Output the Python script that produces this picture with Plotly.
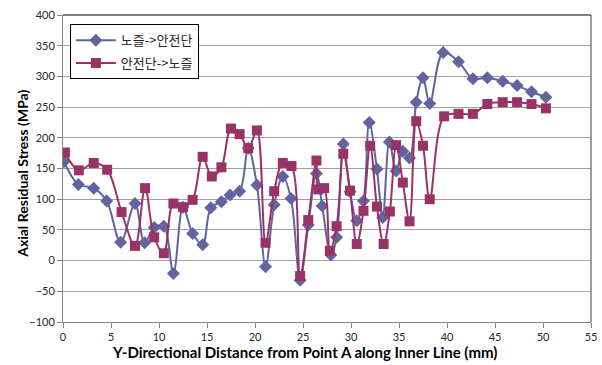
import plotly.graph_objects as go

# Nozzle -> safe end measurement path
x_nozzle = [0.1, 1.6, 3.2, 4.55, 6.0, 7.5, 8.5, 9.5, 10.5, 11.5, 12.5, 13.5,
            14.55, 15.4, 16.5, 17.4, 18.4, 19.3, 20.2, 21.1, 22.0, 22.9, 23.75,
            24.7, 25.55, 26.4, 27.0, 27.9, 28.5, 29.2, 29.9, 30.6, 31.3, 31.9,
            32.7, 33.3, 34.0, 34.7, 35.4, 36.1, 36.8, 37.5, 38.2, 39.6, 41.2,
            42.7, 44.2, 45.8, 47.3, 48.8, 50.3]
y_nozzle = [161, 124, 118, 97, 30, 93, 29, 54, 56, -21, 87, 44,
            26, 86, 96, 107, 113, 183, 123, -10, 91, 137, 101,
            -32, 58, 142, 89, 9, 38, 190, 112, 65, 97, 225,
            149, 70, 193, 146, 178, 167, 258, 298, 256, 339, 324,
            296, 298, 292, 285, 275, 266]

# Safe end -> nozzle measurement path
x_safe = [0.2, 1.65, 3.2, 4.6, 6.1, 7.5, 8.55, 9.5, 10.5, 11.5, 12.5, 13.5,
          14.55, 15.5, 16.5, 17.5, 18.4, 19.3, 20.2, 21.1, 22.0, 22.9, 23.8,
          24.7, 25.55, 26.4, 26.6, 27.2, 27.8, 28.5, 29.2, 29.9, 30.6, 31.3,
          32.0, 32.7, 33.4, 34.05, 34.7, 35.4, 36.1, 36.8, 37.5, 38.2, 39.7,
          41.2, 42.7, 44.2, 45.8, 47.3, 48.8, 50.3]
y_safe = [176, 147, 159, 148, 79, 24, 118, 38, 12, 93, 87, 99,
          169, 137, 152, 215, 206, 183, 212, 29, 113, 159, 154,
          -25, 66, 163, 116, 118, 16, 56, 174, 114, 27, 81,
          187, 88, 27, 80, 188, 127, 64, 227, 187, 100, 235,
          239, 239, 255, 258, 258, 255, 248]

x_ticks = list(range(0, 56, 5))
y_ticks = list(range(-100, 401, 50))

x_title = "Y-Directional Distance from Point A along Inner Line (mm)"
y_title = "Axial Residual Stress (MPa)"

BLUE = "#62639F"
PLUM = "#993366"
TEXT = "#262626"

fig = go.Figure()
fig.add_trace(go.Scatter(
    x=x_nozzle, y=y_nozzle, name="노즐->안전단", mode="lines+markers",
    legendgroup="a",
    line=dict(color=BLUE, width=2, shape="spline", smoothing=1.0),
    marker=dict(symbol="diamond", size=10, color=BLUE),
))
fig.add_trace(go.Scatter(
    x=x_safe, y=y_safe, name="안전단->노즐", mode="lines+markers",
    legendgroup="b",
    line=dict(color=PLUM, width=2, shape="spline", smoothing=1.0),
    marker=dict(symbol="square", size=10, color=PLUM),
))

fig.update_layout(
    width=602, height=365,
    margin=dict(l=63, r=11, t=15, b=43),
    paper_bgcolor="white", plot_bgcolor="white",
    font=dict(family="Lato, 'Liberation Sans', sans-serif", size=11, color=TEXT),
    showlegend=True,
    legend=dict(
        x=0.013, y=0.97, xanchor="left", yanchor="top",
        bgcolor="white", bordercolor="#000000", borderwidth=1,
        font=dict(family="'Noto Sans CJK KR', sans-serif", size=13, color=TEXT),
        tracegroupgap=3, itemwidth=40,
    ),
    xaxis=dict(
        range=[0, 55], tickvals=x_ticks, showgrid=False, zeroline=False,
        showline=True, linecolor="#868686", linewidth=1, automargin=False,
        ticks="outside", ticklen=5, tickcolor="#868686",
    ),
    yaxis=dict(
        range=[-100, 400], tickvals=y_ticks, showgrid=True,
        gridcolor="#A0A0A0", gridwidth=1, zeroline=False,
        showline=True, linecolor="#868686", linewidth=1, automargin=False,
        ticks="outside", ticklen=5, tickcolor="#868686",
    ),
)

# axis titles
fig.add_annotation(text=f"<b>{x_title}</b>", xref="paper", yref="paper",
                   x=0.458, y=-0.098, xanchor="center", yanchor="middle",
                   showarrow=False, font=dict(size=15, color="#000000"))
fig.add_annotation(text=f"<b>{y_title}</b>", xref="paper", yref="paper",
                   x=-0.078, y=0.482, xanchor="center", yanchor="middle",
                   textangle=-90, showarrow=False,
                   font=dict(size=14, color="#000000"))

# top and right edges of the plot frame
fig.add_shape(type="line", xref="paper", yref="paper", x0=0, x1=1, y0=1, y1=1,
              line=dict(color="#000000", width=1))
fig.add_shape(type="line", xref="paper", yref="paper", x0=1, x1=1, y0=0, y1=1,
              line=dict(color="#404040", width=1))

fig.write_html("out.html")
